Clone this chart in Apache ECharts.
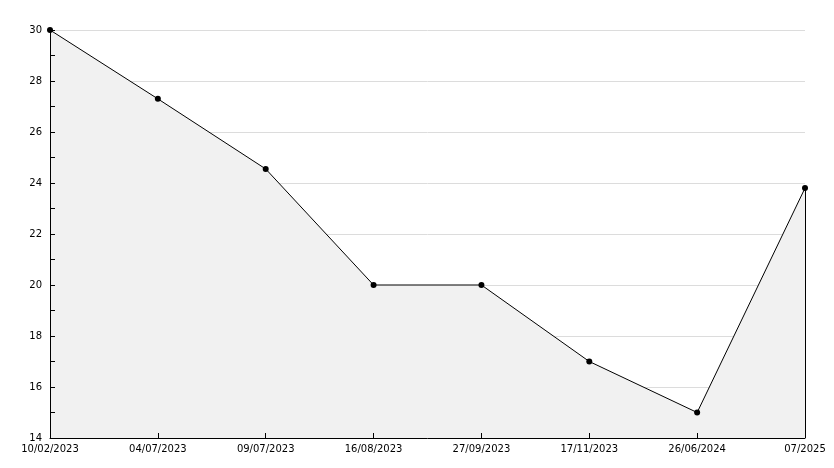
<!DOCTYPE html>
<html><head><meta charset="utf-8">
<script src="https://cdn.jsdelivr.net/npm/echarts@6/dist/echarts.min.js"></script>
<style>html,body{margin:0;padding:0;background:#fff}#c{width:834px;height:468px}</style>
</head><body><div id="c"></div>
<script>
const categories = ["10/02/2023","04/07/2023","09/07/2023","16/08/2023","27/09/2023","17/11/2023","26/06/2024","07/2025"];
const values = [30, 27.3, 24.55, 20, 20, 17, 15, 23.8];
const yMin = 14, yMax = 30, yInterval = 2;

const chart = echarts.init(document.getElementById('c'), null, {renderer:'canvas'});
const font = {fontFamily:'DejaVu Sans', fontSize:10, color:'#000'};
const lastIdx = categories.length - 1;
chart.setOption({
  animation:false,
  grid:{left:50, right:29, top:30, bottom:30, containLabel:false},
  xAxis:[{
    type:'category', data:categories, boundaryGap:false,
    axisLine:{show:false}, axisTick:{show:false},
    axisLabel:Object.assign({margin:6, interval:0}, font),
    splitLine:{show:false}
  },{
    type:'category', data:categories, boundaryGap:false, position:'bottom', z:10,
    axisLine:{lineStyle:{color:'#000', width:1}},
    axisTick:{inside:true, length:5, lineStyle:{color:'#000'}, interval:0},
    axisLabel:{show:false}, splitLine:{show:false}
  }],
  yAxis:[{
    type:'value', min:yMin, max:yMax, interval:yInterval,
    axisLine:{show:false}, axisTick:{show:false},
    axisLabel:Object.assign({margin:8}, font),
    splitLine:{show:true, lineStyle:{color:'#dcdcdc', width:1}}
  },{
    type:'value', min:yMin, max:yMax, interval:yInterval, position:'left', z:10,
    axisLine:{show:true, lineStyle:{color:'#000', width:1}},
    axisTick:{show:true, inside:true, length:5, lineStyle:{color:'#000'}},
    minorTick:{show:true, splitNumber:2, length:5, lineStyle:{color:'#000'}},
    axisLabel:{show:false}, splitLine:{show:false}
  }],
  series:[{
    type:'line', data:values,
    symbol:'circle', symbolSize:6,
    itemStyle:{color:'#000'},
    lineStyle:{color:'#000', width:1},
    areaStyle:{color:'#f1f1f1', opacity:1},
    z:5,
    markLine:{
      silent:true, symbol:'none', label:{show:false},
      lineStyle:{color:'#000', width:1, type:'solid'},
      data:[[{coord:[lastIdx, yMin]},{coord:[lastIdx, values[lastIdx]]}]]
    }
  }]
});
</script></body></html>
